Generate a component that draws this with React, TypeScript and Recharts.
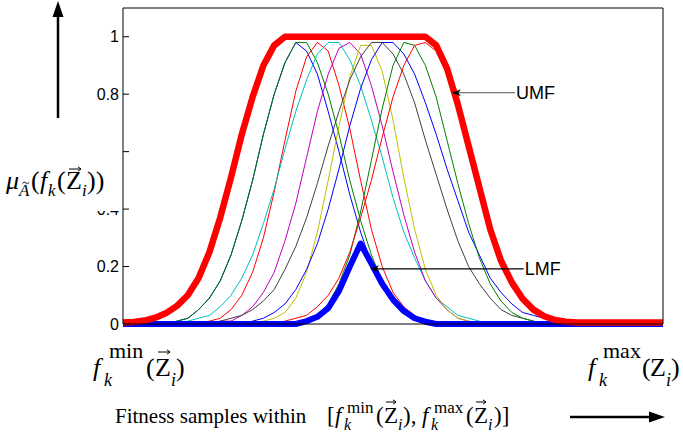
import { LineChart, Line, XAxis, YAxis, ReferenceLine } from "recharts";

// sample grid along the fitness axis
const samples = [
  0, 1, 2, 3, 4, 5, 6, 7, 8, 9, 10, 11, 12, 13, 14, 15, 16, 17, 18, 19, 20, 21, 22, 23, 24, 25,
  26, 27, 28, 29, 30, 31, 32, 33, 34, 35, 36, 37, 38, 39, 40, 41, 42, 43, 44, 45, 46, 47, 48, 49, 50,
];

// embedded type-1 sets, in plotting order
const blue1 = [
  0, 0, 0, 0, 0, 0.01, 0.02, 0.05, 0.09, 0.15, 0.24, 0.36, 0.5, 0.66, 0.8, 0.91, 0.98, 0.95, 0.87, 0.74,
  0.6, 0.45, 0.32, 0.21, 0.13, 0.08, 0.04, 0.02, 0.01, 0, 0, 0, 0, 0, 0, 0, 0, 0, 0, 0,
  0, 0, 0, 0, 0, 0, 0, 0, 0, 0, 0,
];
const green1 = [
  0, 0, 0, 0, 0, 0.01, 0.02, 0.05, 0.09, 0.15, 0.24, 0.36, 0.5, 0.66, 0.8, 0.91, 0.98, 0.98, 0.91, 0.8,
  0.66, 0.5, 0.36, 0.24, 0.15, 0.09, 0.05, 0.02, 0.01, 0, 0, 0, 0, 0, 0, 0, 0, 0, 0, 0,
  0, 0, 0, 0, 0, 0, 0, 0, 0, 0, 0,
];
const red1 = [
  0, 0, 0, 0, 0, 0, 0, 0, 0.01, 0.02, 0.05, 0.1, 0.18, 0.3, 0.46, 0.64, 0.81, 0.93, 0.98, 0.95,
  0.83, 0.68, 0.5, 0.33, 0.2, 0.11, 0.06, 0.03, 0.01, 0, 0, 0, 0, 0, 0, 0, 0, 0, 0, 0,
  0, 0, 0, 0, 0, 0, 0, 0, 0, 0, 0,
];
const cyan = [
  0, 0, 0, 0, 0, 0, 0.01, 0.02, 0.03, 0.06, 0.1, 0.16, 0.24, 0.35, 0.47, 0.61, 0.74, 0.85, 0.94, 0.98,
  0.98, 0.92, 0.83, 0.71, 0.58, 0.44, 0.32, 0.23, 0.15, 0.09, 0.06, 0.03, 0.02, 0.01, 0, 0, 0, 0, 0, 0,
  0, 0, 0, 0, 0, 0, 0, 0, 0, 0, 0,
];
const magenta = [
  0, 0, 0, 0, 0, 0, 0, 0, 0, 0.01, 0.01, 0.03, 0.06, 0.11, 0.18, 0.29, 0.42, 0.58, 0.74, 0.87,
  0.96, 0.98, 0.94, 0.83, 0.69, 0.53, 0.38, 0.25, 0.15, 0.09, 0.05, 0.02, 0.01, 0, 0, 0, 0, 0, 0, 0,
  0, 0, 0, 0, 0, 0, 0, 0, 0, 0, 0,
];
const yellow = [
  0, 0, 0, 0, 0, 0, 0, 0, 0, 0, 0, 0, 0, 0.01, 0.02, 0.04, 0.09, 0.18, 0.32, 0.5,
  0.69, 0.86, 0.97, 0.97, 0.88, 0.71, 0.51, 0.33, 0.19, 0.1, 0.05, 0.02, 0.01, 0, 0, 0, 0, 0, 0, 0,
  0, 0, 0, 0, 0, 0, 0, 0, 0, 0, 0,
];
const gray = [
  0, 0, 0, 0, 0, 0, 0, 0, 0, 0.01, 0.02, 0.03, 0.05, 0.08, 0.12, 0.19, 0.27, 0.37, 0.49, 0.62,
  0.74, 0.85, 0.93, 0.98, 0.98, 0.94, 0.87, 0.77, 0.64, 0.52, 0.4, 0.29, 0.2, 0.14, 0.09, 0.05, 0.03, 0.02, 0.01, 0,
  0, 0, 0, 0, 0, 0, 0, 0, 0, 0, 0,
];
const blue2 = [
  0, 0, 0, 0, 0, 0, 0, 0, 0, 0, 0, 0, 0.01, 0.02, 0.04, 0.07, 0.12, 0.19, 0.28, 0.4,
  0.54, 0.69, 0.82, 0.92, 0.98, 0.98, 0.94, 0.87, 0.77, 0.66, 0.54, 0.43, 0.32, 0.24, 0.16, 0.11, 0.07, 0.04, 0.03, 0.02,
  0.01, 0, 0, 0, 0, 0, 0, 0, 0, 0, 0,
];
const green2 = [
  0, 0, 0, 0, 0, 0, 0, 0, 0, 0, 0, 0, 0, 0, 0, 0, 0, 0.01, 0.03, 0.07,
  0.14, 0.24, 0.39, 0.57, 0.75, 0.9, 0.98, 0.97, 0.9, 0.79, 0.64, 0.49, 0.35, 0.23, 0.14, 0.08, 0.04, 0.02, 0.01, 0,
  0, 0, 0, 0, 0, 0, 0, 0, 0, 0, 0,
];
const red2 = [
  0, 0, 0, 0, 0, 0, 0, 0, 0, 0, 0, 0, 0, 0, 0, 0.01, 0.02, 0.03, 0.06, 0.1,
  0.16, 0.25, 0.37, 0.5, 0.65, 0.79, 0.9, 0.97, 0.98, 0.95, 0.87, 0.75, 0.6, 0.46, 0.32, 0.21, 0.14, 0.08, 0.05, 0.02,
  0.01, 0.01, 0, 0, 0, 0, 0, 0, 0, 0, 0,
];

// upper and lower membership functions
const umf = [
  0.005, 0.007, 0.012, 0.022, 0.038, 0.063, 0.1, 0.16, 0.25, 0.37, 0.51, 0.66, 0.79, 0.9, 0.97, 1, 1, 1, 1, 1,
  1, 1, 1, 1, 1, 1, 1, 1, 1, 0.97, 0.89, 0.765, 0.62, 0.475, 0.33, 0.22, 0.145, 0.088, 0.05, 0.027,
  0.014, 0.008, 0.005, 0.005, 0.005, 0.005, 0.005, 0.005, 0.005, 0.005, 0.005,
];
const lmf = [
  0, 0, 0, 0, 0, 0, 0, 0, 0, 0, 0, 0, 0, 0, 0, 0, 0, 0.01, 0.025, 0.055,
  0.115, 0.2, 0.28, 0.21, 0.14, 0.085, 0.045, 0.02, 0.008, 0, 0, 0, 0, 0, 0, 0, 0, 0, 0, 0,
  0, 0, 0, 0, 0, 0, 0, 0, 0, 0, 0,
];

const thinSeries = [
  { key: "b1", values: blue1, color: "#0000ff" },
  { key: "g1", values: green1, color: "#008000" },
  { key: "r1", values: red1, color: "#ff0000" },
  { key: "c1", values: cyan, color: "#00bfbf" },
  { key: "m1", values: magenta, color: "#bf00bf" },
  { key: "y1", values: yellow, color: "#bfbf00" },
  { key: "k1", values: gray, color: "#404040" },
  { key: "b2", values: blue2, color: "#0000ff" },
  { key: "g2", values: green2, color: "#008000" },
  { key: "r2", values: red2, color: "#ff0000" },
];

const yTicks = [0, 0.2, 0.4, 0.6, 0.8, 1];
const xTicks = [10, 20, 30, 40];

const rows = samples.map((u, i) => {
  const row: Record<string, number> = { u, umf: umf[i], lmf: lmf[i] };
  thinSeries.forEach((s) => {
    row[s.key] = s.values[i];
  });
  return row;
});

const SERIF = "'Liberation Serif', 'Times New Roman', serif";
const SANS = "'Liberation Sans', Arial, sans-serif";

type Piece = { t: string; x: number; y: number; size: number; italic?: boolean };

function MathText({ pieces }: { pieces: Piece[] }) {
  return (
    <>
      {pieces.map((p, i) => (
        <text
          key={i}
          x={p.x}
          y={p.y}
          fontSize={p.size}
          fontStyle={p.italic ? "italic" : "normal"}
          fontFamily={SERIF}
          fill="#000"
        >
          {p.t}
        </text>
      ))}
    </>
  );
}

function VecArrow({ x1, x2, y }: { x1: number; x2: number; y: number }) {
  return (
    <g stroke="#000" strokeWidth={1} fill="none">
      <line x1={x1} y1={y} x2={x2} y2={y} />
      <path d={`M${x2 - 3},${y - 2.2} L${x2},${y} L${x2 - 3},${y + 2.2}`} />
    </g>
  );
}

// annotation arrow: head at (x1,y1), label after tail (x2,y2)
function makeArrow(label: string, color: string) {
  return (p: any) => {
    const { x1, y1, x2, y2 } = p;
    return (
      <g>
        <line x1={x1 + 6} y1={y1} x2={x2} y2={y2} stroke={color} strokeWidth={1.2} />
        <polygon
          points={`${x1},${y1} ${x1 + 9},${y1 - 3.5} ${x1 + 6.5},${y1} ${x1 + 9},${y1 + 3.5}`}
          fill="#000"
        />
        <text x={x2 + 1} y={y2 + 6.5} fontSize={18} fontFamily={SANS} fill="#000">
          {label}
        </text>
      </g>
    );
  };
}

const yLabel: Piece[] = [
  { t: "μ", x: 6, y: 189, size: 26, italic: true },
  { t: "A", x: 19, y: 196, size: 17, italic: true },
  { t: "(", x: 31, y: 189, size: 26 },
  { t: "f", x: 40, y: 189, size: 26, italic: true },
  { t: "k", x: 48, y: 196, size: 17, italic: true },
  { t: "(", x: 57, y: 189, size: 26 },
  { t: "Z", x: 66, y: 189, size: 26 },
  { t: "i", x: 82, y: 196, size: 17, italic: true },
  { t: "))", x: 87, y: 189, size: 26 },
];

const minLabel: Piece[] = [
  { t: "f", x: 93, y: 376, size: 26, italic: true },
  { t: "min", x: 109, y: 358, size: 22 },
  { t: "k", x: 104, y: 386, size: 18, italic: true },
  { t: "(", x: 146, y: 376, size: 26 },
  { t: "Z", x: 155, y: 376, size: 26 },
  { t: "i", x: 171, y: 386, size: 18, italic: true },
  { t: ")", x: 176, y: 376, size: 26 },
];

const maxLabel: Piece[] = [
  { t: "f", x: 588, y: 376, size: 26, italic: true },
  { t: "max", x: 603, y: 358, size: 22 },
  { t: "k", x: 599, y: 386, size: 18, italic: true },
  { t: "(", x: 642, y: 376, size: 26 },
  { t: "Z", x: 650, y: 376, size: 26 },
  { t: "i", x: 666, y: 386, size: 18, italic: true },
  { t: ")", x: 671, y: 376, size: 26 },
];

const titleLabel: Piece[] = [
  { t: "Fitness samples within", x: 115, y: 423, size: 21 },
  { t: "[", x: 327, y: 423, size: 23 },
  { t: "f", x: 335, y: 423, size: 23, italic: true },
  { t: "min", x: 347, y: 413, size: 17 },
  { t: "k", x: 344, y: 430, size: 16, italic: true },
  { t: "(", x: 376, y: 423, size: 23 },
  { t: "Z", x: 384, y: 423, size: 23 },
  { t: "i", x: 398, y: 430, size: 16, italic: true },
  { t: "),", x: 403, y: 423, size: 23 },
  { t: "f", x: 422, y: 423, size: 23, italic: true },
  { t: "max", x: 434, y: 413, size: 17 },
  { t: "k", x: 431, y: 430, size: 16, italic: true },
  { t: "(", x: 466, y: 423, size: 23 },
  { t: "Z", x: 474, y: 423, size: 23 },
  { t: "i", x: 488, y: 430, size: 16, italic: true },
  { t: ")]", x: 494, y: 423, size: 23 },
];

export default function App() {
  return (
    <div
      style={{ position: "fixed", left: 0, top: 0, width: 683, height: 436, background: "#fff" }}
    >
      <LineChart
        width={683}
        height={436}
        data={rows}
        margin={{ top: 7, right: 19, bottom: 92, left: 63 }}
      >
        <XAxis
          dataKey="u"
          type="number"
          domain={[0, 50]}
          ticks={xTicks}
          interval={0}
          tick={false}
          tickSize={-5}
          height={20}
          stroke="#000"
        />
        <XAxis
          xAxisId="top"
          dataKey="u"
          type="number"
          orientation="top"
          domain={[0, 50]}
          ticks={xTicks}
          interval={0}
          tick={false}
          tickSize={-5}
          height={1}
          stroke="#000"
        />
        <YAxis
          type="number"
          domain={[0, 1.1]}
          ticks={yTicks}
          interval={0}
          tickSize={-6}
          tickMargin={10}
          width={60}
          stroke="#000"
          tick={{ fontSize: 16, fill: "#000", fontFamily: SANS }}
          tickFormatter={(v) => String(v)}
        />
        <YAxis
          yAxisId="r"
          type="number"
          orientation="right"
          domain={[0, 1.1]}
          ticks={yTicks}
          interval={0}
          tick={false}
          tickSize={-6}
          width={1}
          stroke="#000"
        />
        {thinSeries.map((s) => (
          <Line
            key={s.key}
            dataKey={s.key}
            type="linear"
            stroke={s.color}
            strokeWidth={1}
            dot={false}
            isAnimationActive={false}
          />
        ))}
        <Line
          dataKey="lmf"
          type="linear"
          stroke="#0000ff"
          strokeWidth={6}
          strokeLinejoin="round"
          dot={false}
          isAnimationActive={false}
        />
        <Line
          dataKey="umf"
          type="linear"
          stroke="#ff0000"
          strokeWidth={6.5}
          strokeLinejoin="round"
          dot={false}
          isAnimationActive={false}
        />
        <ReferenceLine
          segment={[
            { x: 30.45, y: 0.805 },
            { x: 36.3, y: 0.805 },
          ]}
          shape={makeArrow("UMF", "#555")}
        />
        <ReferenceLine
          segment={[
            { x: 22.87, y: 0.192 },
            { x: 37.1, y: 0.192 },
          ]}
          shape={makeArrow("LMF", "#000")}
        />
      </LineChart>
      <svg
        width={683}
        height={436}
        style={{ position: "absolute", left: 0, top: 0, pointerEvents: "none" }}
      >
        <rect x={0} y={140} width={121} height={71} fill="#fff" />
        <MathText pieces={yLabel} />
        {/* tilde over the subscript A */}
        <path d="M22.5,183.5 q1.6,-2.6 3.4,-0.6 t3.4,-0.6" stroke="#000" strokeWidth={0.9} fill="none" />
        <VecArrow x1={69} x2={81} y={169} />
        <MathText pieces={minLabel} />
        <VecArrow x1={158} x2={170} y={352} />
        <MathText pieces={maxLabel} />
        <MathText pieces={titleLabel} />
        <VecArrow x1={386} x2={396} y={402} />
        <VecArrow x1={476} x2={486} y={402} />
        {/* membership axis arrow */}
        <line x1={58} y1={118} x2={58} y2={15} stroke="#000" strokeWidth={2.5} />
        <polygon points="58,1 52.5,17 63.5,17" fill="#000" />
        {/* fitness axis arrow */}
        <line x1={570} y1={417} x2={651} y2={417} stroke="#000" strokeWidth={2.5} />
        <polygon points="665,417 649,411.5 649,422.5" fill="#000" />
      </svg>
    </div>
  );
}
